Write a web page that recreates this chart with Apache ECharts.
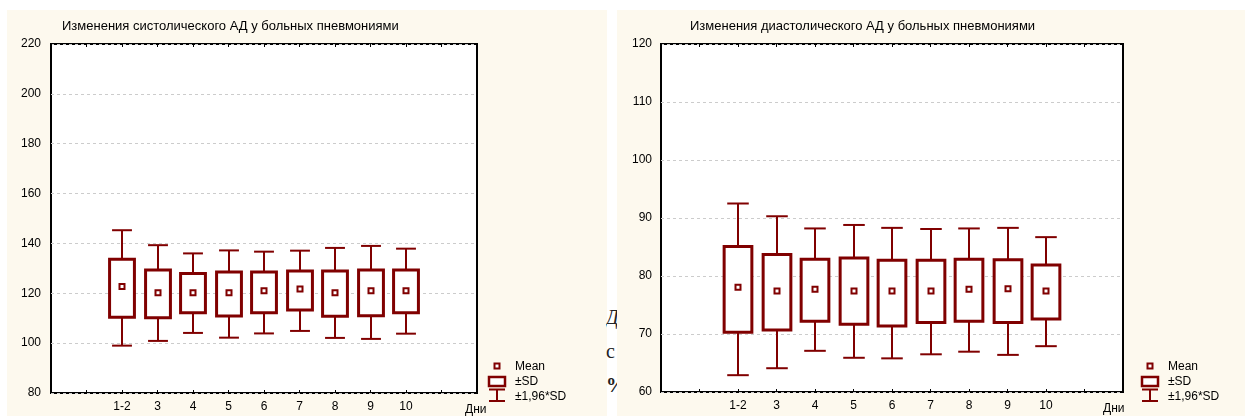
<!DOCTYPE html>
<html><head><meta charset="utf-8">
<script src="https://cdn.jsdelivr.net/npm/echarts@6/dist/echarts.min.js"></script>
<style>
html,body{margin:0;padding:0;background:#fff;}
#wrap{position:relative;width:1245px;height:416px;overflow:hidden;}
.panel{position:absolute;background:#fdf9ee;top:10px;height:406px;}
#frag{position:absolute;left:606px;top:300px;width:11px;height:106px;overflow:hidden;font-family:'Liberation Serif',serif;font-size:20px;line-height:34px;color:#222;}
#c{position:absolute;left:0;top:0;width:1245px;height:416px;}
</style>
</head><body>
<div id="wrap">
<div class="panel" style="left:7px;width:600px;"></div>
<div class="panel" style="left:617px;width:628px;"></div>
<div id="frag"><i>Д</i><br>с<br><b>%0</b></div>
<div id="c"></div>
</div>
<script>
// ---- data ----
const categories = ['1-2','3','4','5','6','7','8','9','10'];
const axisSlots  = ['', '', '1-2','3','4','5','6','7','8','9','10', '', ''];

const sysTitle = 'Изменения систолического АД у больных пневмониями';
const sysMean   = [122.7,120.2,120.2,120.2,121.0,121.7,120.2,121.0,121.0];
const sysSdLow  = [110.4,110.2,112.2,110.9,112.2,113.3,110.8,111.0,112.2];
const sysSdHigh = [133.7,129.3,127.9,128.5,128.5,128.9,128.9,129.3,129.3];
const sysCiLow  = [99.0,100.9,104.1,102.2,103.9,104.9,102.1,101.7,103.8];
const sysCiHigh = [145.3,139.3,136.0,137.2,136.7,137.1,138.2,139.0,137.9];

const diaTitle = 'Изменения диастолического АД у больных пневмониями';
const diaMean   = [78.05,77.4,77.7,77.4,77.4,77.4,77.7,77.8,77.4];
const diaSdLow  = [70.3,70.7,72.2,71.7,71.4,72.0,72.2,72.0,72.6];
const diaSdHigh = [85.1,83.7,82.9,83.1,82.7,82.7,82.9,82.8,81.9];
const diaCiLow  = [62.9,64.1,67.1,65.9,65.8,66.5,66.95,66.4,67.9];
const diaCiHigh = [92.5,90.3,88.2,88.8,88.3,88.1,88.2,88.3,86.7];

const legendLabels = ['Mean','±SD','±1,96*SD'];
const xName = 'Дни';

// ---- chart ----
const COLOR = '#800000';
const FONT = "'Liberation Sans', Arial, sans-serif";

function buildData(mean, sdL, sdH, ciL, ciH){
  return categories.map((c,i)=>[axisSlots.indexOf(c), mean[i], sdL[i], sdH[i], ciL[i], ciH[i]]);
}
function makeRender(boxFrac, capFrac){
  return function(params, api){
    const x = api.value(0);
    const pM = api.coord([x, api.value(1)]);
    const pSL = api.coord([x, api.value(2)]);
    const pSH = api.coord([x, api.value(3)]);
    const pCL = api.coord([x, api.value(4)]);
    const pCH = api.coord([x, api.value(5)]);
    const unit = api.size([1,0])[0];
    const bw = unit*boxFrac, cw = unit*capFrac;
    const cx = Math.round(pM[0]);
    const ls = {stroke: COLOR, lineWidth: 2, fill: null};
    return {type:'group', children:[
      {type:'line', shape:{x1:cx,y1:pCH[1],x2:cx,y2:pSH[1]}, style:ls},
      {type:'line', shape:{x1:cx,y1:pSL[1],x2:cx,y2:pCL[1]}, style:ls},
      {type:'line', shape:{x1:cx-cw/2,y1:pCH[1],x2:cx+cw/2,y2:pCH[1]}, style:ls},
      {type:'line', shape:{x1:cx-cw/2,y1:pCL[1],x2:cx+cw/2,y2:pCL[1]}, style:ls},
      {type:'rect', shape:{x:cx-bw/2,y:pSH[1],width:bw,height:pSL[1]-pSH[1]}, style:{stroke:COLOR,lineWidth:3,fill:'#fff'}},
      {type:'rect', shape:{x:cx-2.5,y:pM[1]-2.5,width:5,height:5}, style:{stroke:COLOR,lineWidth:2,fill:'#fff'}}
    ]};
  };
}
function xAxes(gridIndex){
  const base = {type:'value', gridIndex, min:0, max:12, interval:1,
    axisLine:{show:false}, splitLine:{show:false},
    axisTick:{show:true, inside:true, length:3, lineStyle:{color:'#000', width:1}}};
  return [
    Object.assign({}, base, {position:'bottom',
      axisLabel:{show:true, margin:8, fontSize:12, color:'#000', fontFamily:FONT,
        formatter:(v)=> axisSlots[v] || ''}}),
    Object.assign({}, base, {position:'top', axisLabel:{show:false}})
  ];
}
function yAxis(gridIndex, min, max, interval, margin){
  return {type:'value', gridIndex, min, max, interval,
    axisLine:{show:false}, axisTick:{show:false},
    axisLabel:{margin, fontSize:12, color:'#000', fontFamily:FONT},
    splitLine:{show:true, lineStyle:{color:'#cccccc', type:[3,3], width:1}}};
}
function legendGroup(x0, textX){
  const ts = (t, y)=>({type:'text', x:textX, y, style:{text:t, fontSize:12, fill:'#000', fontFamily:FONT, verticalAlign:'middle'}});
  return [
    {type:'rect', shape:{x:x0+5.5, y:363.5, width:5, height:5}, style:{stroke:COLOR, lineWidth:2, fill:'#fff'}},
    {type:'rect', shape:{x:x0, y:377, width:16, height:9}, style:{stroke:COLOR, lineWidth:2.5, fill:'#fff'}},
    {type:'line', shape:{x1:x0+8, y1:389, x2:x0+8, y2:401}, style:{stroke:COLOR, lineWidth:2}},
    {type:'line', shape:{x1:x0, y1:389.5, x2:x0+16, y2:389.5}, style:{stroke:COLOR, lineWidth:2}},
    {type:'line', shape:{x1:x0, y1:401, x2:x0+16, y2:401}, style:{stroke:COLOR, lineWidth:2}},
    ts(legendLabels[0], 367), ts(legendLabels[1], 382), ts(legendLabels[2], 397)
  ];
}

const chart = echarts.init(document.getElementById('c'), null, {renderer:'canvas'});
chart.setOption({
  backgroundColor:'transparent',
  animation:false,
  textStyle:{fontFamily:FONT},
  title:[
    {text:sysTitle, left:62, top:20, padding:0, textStyle:{fontSize:13, fontWeight:'normal', color:'#000', fontFamily:FONT}},
    {text:diaTitle, left:690, top:20, padding:0, textStyle:{fontSize:13, fontWeight:'normal', color:'#000', fontFamily:FONT}}
  ],
  grid:[
    {left:51, top:44, width:426, height:349, show:true, backgroundColor:'#fff', borderColor:'#000', borderWidth:2},
    {left:661, top:44, width:462, height:348, show:true, backgroundColor:'#fff', borderColor:'#000', borderWidth:2}
  ],
  xAxis: xAxes(0).concat(xAxes(1)),
  yAxis:[ yAxis(0, 80, 220, 20, 10), yAxis(1, 60, 120, 10, 9) ],
  series:[
    {type:'custom', xAxisIndex:0, yAxisIndex:0, renderItem:makeRender(0.70,0.56),
     data:buildData(sysMean, sysSdLow, sysSdHigh, sysCiLow, sysCiHigh), z:5},
    {type:'custom', xAxisIndex:2, yAxisIndex:1, renderItem:makeRender(0.72,0.56),
     data:buildData(diaMean, diaSdLow, diaSdHigh, diaCiLow, diaCiHigh), z:5}
  ],
  graphic:{elements:[
    {type:'text', x:465, y:404, style:{text:xName, fontSize:12, fill:'#000', fontFamily:FONT}},
    {type:'text', x:1103, y:403, style:{text:xName, fontSize:12, fill:'#000', fontFamily:FONT}},
    ...legendGroup(489, 515),
    ...legendGroup(1142, 1168)
  ]}
});
</script>
</body></html>
